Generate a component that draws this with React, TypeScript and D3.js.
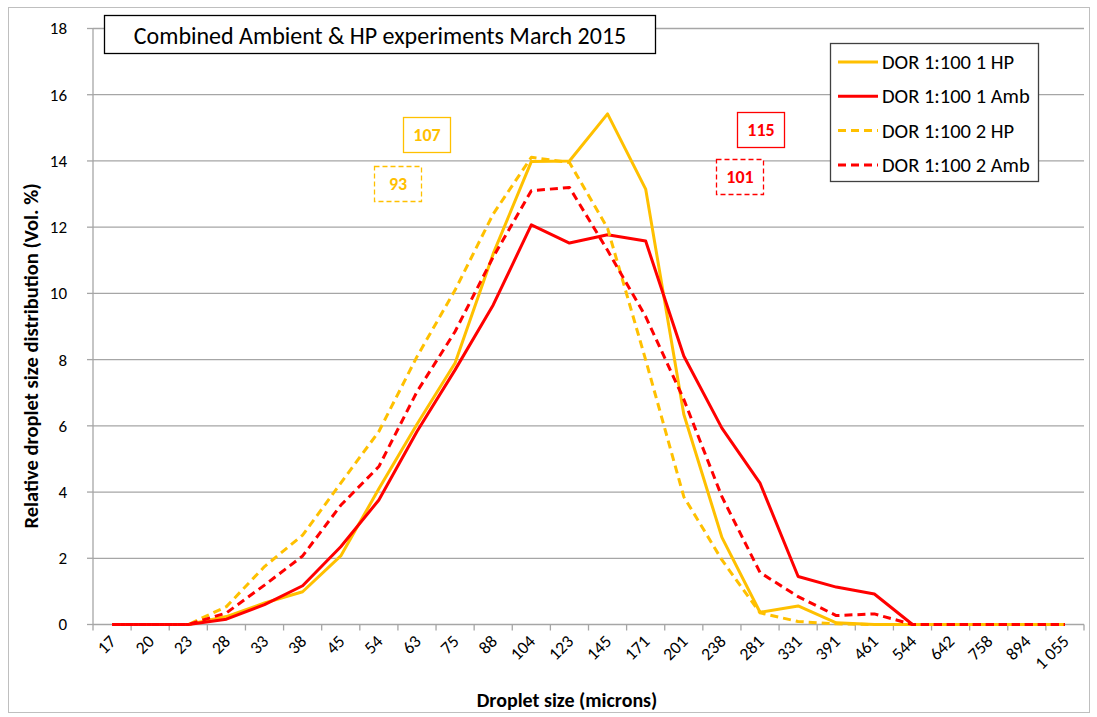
import React from 'react';
import * as d3 from 'd3';

const sizes = ['17', '20', '23', '28', '33', '38', '45', '54', '63', '75', '88', '104', '123', '145', '171', '201', '238', '281', '331', '391', '461', '544', '642', '758', '894', '1 055'];

const hp1 = [0, 0, 0, 0.24, 0.65, 0.99, 2.07, 4.1, 6.05, 7.9, 11.2, 13.98, 14.0, 15.42, 13.15, 6.35, 2.63, 0.37, 0.56, 0.05, 0.0, 0, 0, 0, 0, 0];
const amb1 = [0, 0, 0, 0.16, 0.6, 1.17, 2.35, 3.76, 5.83, 7.69, 9.65, 12.07, 11.52, 11.77, 11.58, 8.11, 5.93, 4.27, 1.45, 1.13, 0.92, 0, 0, 0, 0, 0];
const hp2 = [0, 0, 0, 0.54, 1.75, 2.7, 4.27, 5.83, 8.09, 10.1, 12.4, 14.11, 13.95, 11.97, 7.99, 3.86, 1.95, 0.35, 0.09, 0.02, 0, 0, 0, 0, 0, 0];
const amb2 = [0, 0, 0, 0.35, 1.19, 2.07, 3.6, 4.77, 7.03, 8.85, 11.1, 13.1, 13.2, 11.3, 9.3, 6.8, 3.86, 1.57, 0.84, 0.27, 0.32, 0, 0, 0, 0, 0];

const yTicks = [0, 2, 4, 6, 8, 10, 12, 14, 16, 18];

const series = [
  { name: 'DOR 1:100 1 HP', values: hp1, color: '#FFC000', dash: null },
  { name: 'DOR 1:100 1 Amb', values: amb1, color: '#FF0000', dash: null },
  { name: 'DOR 1:100 2 HP', values: hp2, color: '#FFC000', dash: '8,5' },
  { name: 'DOR 1:100 2 Amb', values: amb2, color: '#FF0000', dash: '8,5' },
];

// median labels placed beside the peaks
const notes = [
  { text: '107', color: '#FFC000', dash: null, x: 403, y: 117 },
  { text: '93', color: '#FFC000', dash: '5,3', x: 374, y: 166 },
  { text: '115', color: '#FF0000', dash: null, x: 737, y: 112 },
  { text: '101', color: '#FF0000', dash: '5,3', x: 716, y: 159 },
];

const W = 1097, H = 717;
const left = 93, right = 1084, top = 28.5, bottom = 624.5;
const font = 'Carlito, Calibri, Lato, sans-serif';

export default function App() {
  const x = d3.scaleBand().domain(sizes).range([left, right]);
  const y = d3.scaleLinear().domain([0, 18]).range([bottom, top]);
  const cx = (s: string) => (x(s) as number) + x.bandwidth() / 2;

  const line = d3.line<number>()
    .x((_, i) => cx(sizes[i]))
    .y(d => y(d));

  const tickEdges = sizes.map(s => x(s) as number).concat([right]);

  return (
    <svg width={W} height={H} style={{ position: 'absolute', left: 0, top: 0, background: '#fff' }} fontFamily={font}>
      <rect x={8.5} y={7.5} width={1081} height={705} fill="#fff" stroke="#bfbfbf" />

      {/* grid */}
      {yTicks.filter(t => t > 0).map(t => (
        <line key={t} x1={left} x2={right} y1={y(t)} y2={y(t)} stroke="#a6a6a6" strokeWidth={1.3} />
      ))}

      {/* y axis */}
      <line x1={left} x2={left} y1={top} y2={bottom} stroke="#a6a6a6" strokeWidth={1.3} />
      {yTicks.map(t => (
        <g key={t}>
          <line x1={left - 6} x2={left} y1={y(t)} y2={y(t)} stroke="#a6a6a6" strokeWidth={1.3} />
          <text x={67} y={y(t)} dy="0.35em" textAnchor="end" fontSize={17} fill="#000">{t}</text>
        </g>
      ))}

      {/* x axis */}
      <line x1={left} x2={right} y1={bottom} y2={bottom} stroke="#a6a6a6" strokeWidth={1.3} />
      {tickEdges.map((e, i) => (
        <line key={i} x1={e} x2={e} y1={bottom} y2={bottom + 6} stroke="#a6a6a6" strokeWidth={1.3} />
      ))}
      {sizes.map(s => (
        <text key={s} transform={`translate(${cx(s) + 5},${bottom + 18}) rotate(-45)`} textAnchor="end" fontSize={17.5} fill="#000">{s}</text>
      ))}

      {/* series */}
      {series.map(s => (
        <path key={s.name} d={line(s.values) as string} fill="none" stroke={s.color} strokeWidth={3}
          strokeDasharray={s.dash ?? undefined} strokeLinejoin="round" />
      ))}

      {/* axis titles */}
      <text x={567} y={707} textAnchor="middle" fontSize={20} fontWeight="bold" fill="#000">Droplet size (microns)</text>
      <text transform={`translate(38,356) rotate(-90)`} textAnchor="middle" fontSize={20.5} fontWeight="bold" fill="#000">Relative droplet size distribution (Vol. %)</text>

      {/* title box */}
      <rect x={104.5} y={15.5} width={551} height={38} fill="#fff" stroke="#000" strokeWidth={1.3} />
      <text x={380} y={36} dy="0.35em" textAnchor="middle" fontSize={24} fill="#000">Combined Ambient &amp; HP experiments March 2015</text>

      {/* notes */}
      {notes.map(n => (
        <g key={n.text}>
          <rect x={n.x + 0.5} y={n.y + 0.5} width={47} height={35} fill="#fff" stroke={n.color} strokeWidth={1.3}
            strokeDasharray={n.dash ?? undefined} />
          <text x={n.x + 24} y={n.y + 18} dy="0.35em" textAnchor="middle" fontSize={18} fontWeight="bold" fill={n.color}>{n.text}</text>
        </g>
      ))}

      {/* legend */}
      <rect x={830.5} y={43.5} width={208} height={138} fill="#fff" stroke="#404040" strokeWidth={1.3} />
      {series.map((s, i) => (
        <g key={s.name} transform={`translate(838,${62 + i * 34.3})`}>
          <line x1={0} x2={40} y1={0} y2={0} stroke={s.color} strokeWidth={3} strokeDasharray={s.dash ?? undefined} />
          <text x={44} y={0} dy="0.35em" fontSize={20.5} fill="#000">{s.name}</text>
        </g>
      ))}
    </svg>
  );
}
